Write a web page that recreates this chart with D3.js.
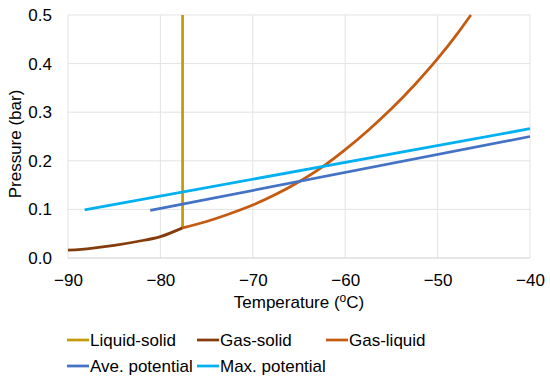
<!DOCTYPE html>
<html>
<head>
<meta charset="utf-8">
<script src="https://d3js.org/d3.v7.min.js"></script>
<style>
  body { margin: 0; background: #fff; }
  text { font-family: "Liberation Sans", Arial, sans-serif; fill: #000; }
</style>
</head>
<body>
<div id="chart"></div>
<script>
var width = 550
var height = 381
var margin = { top: 15, right: 20, bottom: 123, left: 68 }

// series (temperature in oC, pressure in bar)
var liquidSolidT = [-77.6, -77.6]
var liquidSolidP = [0.062, 0.5]

var gasSolidT = [-90, -87.5, -85, -82.5, -80, -77.6]
var gasSolidP = [0.016, 0.020, 0.026, 0.034, 0.044, 0.062]

var gasLiquidT = [-77.6, -75, -72.5, -70, -67.5, -65, -62.5, -60, -57.5, -55, -52.5, -50, -48, -46.4]
var gasLiquidP = [0.062, 0.075, 0.091, 0.109, 0.131, 0.157, 0.187, 0.223, 0.263, 0.307, 0.356, 0.41, 0.458, 0.5]

var avePotT = [-81.1, -40]
var avePotP = [0.098, 0.25]

var maxPotT = [-88.2, -40]
var maxPotP = [0.099, 0.266]

var xTicks = [-90, -80, -70, -60, -50, -40]
var yTicks = [0, 0.1, 0.2, 0.3, 0.4, 0.5]

var seriesNames = ['Liquid-solid', 'Gas-solid', 'Gas-liquid', 'Ave. potential', 'Max. potential']
var seriesColors = ['#C59A0F', '#843C0C', '#C55A11', '#4472C4', '#00B0F0']

var series = [
    { t: liquidSolidT, p: liquidSolidP },
    { t: gasSolidT, p: gasSolidP },
    { t: gasLiquidT, p: gasLiquidP },
    { t: avePotT, p: avePotP },
    { t: maxPotT, p: maxPotP }
]

var svg = d3.select('#chart').append('svg')
    .attr('width', width)
    .attr('height', height)

var x = d3.scaleLinear().domain([-90, -40]).range([margin.left, width - margin.right])
var y = d3.scaleLinear().domain([0, 0.5]).range([height - margin.bottom, margin.top])

// grid
var grid = svg.append('g').attr('class', 'grid')
grid.selectAll('line.v').data(xTicks).enter().append('line')
    .attr('x1', function (d) { return x(d) }).attr('x2', function (d) { return x(d) })
    .attr('y1', y(0.5)).attr('y2', y(0))
    .attr('stroke', '#e3e3e3').attr('stroke-width', 1)
grid.selectAll('line.h').data(yTicks).enter().append('line')
    .attr('x1', x(-90)).attr('x2', x(-40))
    .attr('y1', function (d) { return y(d) }).attr('y2', function (d) { return y(d) })
    .attr('stroke', function (d) { return d === 0 ? '#d0d0d0' : '#e3e3e3' }).attr('stroke-width', 1)

// axes (labels only)
var fmtMinus = function (d) { return String(d).replace('-', '\u2212') }
svg.append('g')
    .attr('transform', 'translate(0,' + y(0) + ')')
    .call(d3.axisBottom(x).tickValues(xTicks).tickSize(0).tickPadding(16).tickFormat(fmtMinus))
svg.append('g')
    .attr('transform', 'translate(' + margin.left + ',0)')
    .call(d3.axisLeft(y).tickValues(yTicks).tickSize(0).tickPadding(16).tickFormat(d3.format('.1f')))
svg.selectAll('.domain').remove()
svg.selectAll('.tick text').attr('font-size', 17).attr('font-family', '"Liberation Sans", Arial, sans-serif').attr('fill', '#000')

// axis titles
var xt = svg.append('text')
    .attr('x', (x(-90) + x(-40)) / 2)
    .attr('y', 308)
    .attr('text-anchor', 'middle')
    .attr('font-size', 17)
xt.append('tspan').text('Temperature (')
xt.append('tspan').text('o').attr('font-size', 12).attr('dy', -6)
xt.append('tspan').text('C)').attr('dy', 6)

svg.append('text')
    .attr('transform', 'translate(21,144) rotate(-90)')
    .attr('text-anchor', 'middle')
    .attr('font-size', 17)
    .text('Pressure (bar)')

// lines
var line = d3.line()
    .x(function (d) { return x(d[0]) })
    .y(function (d) { return y(d[1]) })
    .curve(d3.curveMonotoneX)

var lineGroup = svg.append('g').attr('class', 'lines')
series.forEach(function (s, i) {
    var pts = s.t.map(function (t, j) { return [t, s.p[j]] })
    lineGroup.append('path')
        .datum(pts)
        .attr('d', i === 0 ? d3.line().x(function (d) { return x(d[0]) }).y(function (d) { return y(d[1]) }) : line)
        .attr('fill', 'none')
        .attr('stroke', seriesColors[i])
        .attr('stroke-width', 2.75)
})

// legend
var legendPos = [[67, 340], [197, 340], [326, 340], [67, 366], [197, 366]]
var legend = svg.append('g').attr('class', 'legend')
seriesNames.forEach(function (name, i) {
    var g = legend.append('g').attr('transform', 'translate(' + legendPos[i][0] + ',' + legendPos[i][1] + ')')
    g.append('line').attr('x1', 0).attr('x2', 22).attr('y1', 0).attr('y2', 0)
        .attr('stroke', seriesColors[i]).attr('stroke-width', 2.75)
    g.append('text').attr('x', 23).attr('y', 6).attr('font-size', 17).text(name)
})
</script>
</body>
</html>
